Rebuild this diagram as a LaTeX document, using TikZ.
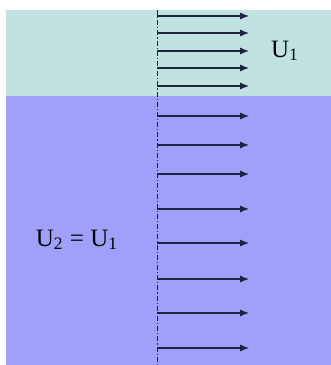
\documentclass[tikz,border=0pt]{standalone}
\usepackage{fontspec}
\setmainfont{Liberation Serif}
\usepackage{xcolor}
\usetikzlibrary{arrows.meta}
\definecolor{upperfluid}{HTML}{C2E2E2}
\definecolor{lowerfluid}{HTML}{A0A0FA}
\definecolor{axisline}{HTML}{1E2340}

\begin{document}
\begin{tikzpicture}[x=0.5pt,y=-0.5pt,
        vel/.style={-{Latex[length=4.5pt,width=3.6pt]},line width=0.6pt,color=axisline},
        lbl/.style={font=\fontsize{12.5}{14}\selectfont,inner sep=0pt}]
        \useasboundingbox (0,0) rectangle (331,365);
        % Layers
        \fill[upperfluid] (6,10) rectangle (331,96);
        \fill[lowerfluid] (6,96) rectangle (331,365);
        % Centre line
        \coordinate (top) at (157,10);
        \coordinate (bot) at (157,365);
        \draw[axisline,line width=0.5pt,dash pattern=on 2.5pt off 1pt on 0.6pt off 1pt] (top) -- (bot);
        % Upper layer
        \coordinate (a1) at (157,16);  \coordinate (b1) at (249,16);
        \coordinate (a2) at (157,33);  \coordinate (b2) at (249,33);
        \coordinate (a3) at (157,51);  \coordinate (b3) at (249,51);
        \coordinate (a4) at (157,68);  \coordinate (b4) at (249,68);
        \coordinate (a5) at (157,86);  \coordinate (b5) at (249,86);
        % Lower layer
        \coordinate (c1) at (157,116); \coordinate (d1) at (249,116);
        \coordinate (c2) at (157,145); \coordinate (d2) at (249,145);
        \coordinate (c3) at (157,174); \coordinate (d3) at (249,174);
        \coordinate (c4) at (157,209); \coordinate (d4) at (249,209);
        \coordinate (c5) at (157,243); \coordinate (d5) at (249,243);
        \coordinate (c6) at (157,279); \coordinate (d6) at (249,279);
        \coordinate (c7) at (157,313); \coordinate (d7) at (249,313);
        \coordinate (c8) at (157,348); \coordinate (d8) at (249,348);
        % Labels
        \node[lbl] (u1) at (285,51) {U\textsubscript{1}};
        \node[lbl] (u2) at (77,240) {U\textsubscript{2} = U\textsubscript{1}};
        % Velocity arrows
        \draw[vel] (a1) -- (b1);
        \draw[vel] (a2) -- (b2);
        \draw[vel] (a3) -- (b3);
        \draw[vel] (a4) -- (b4);
        \draw[vel] (a5) -- (b5);
        \draw[vel] (c1) -- (d1);
        \draw[vel] (c2) -- (d2);
        \draw[vel] (c3) -- (d3);
        \draw[vel] (c4) -- (d4);
        \draw[vel] (c5) -- (d5);
        \draw[vel] (c6) -- (d6);
        \draw[vel] (c7) -- (d7);
        \draw[vel] (c8) -- (d8);
    \end{tikzpicture}
\end{document}
